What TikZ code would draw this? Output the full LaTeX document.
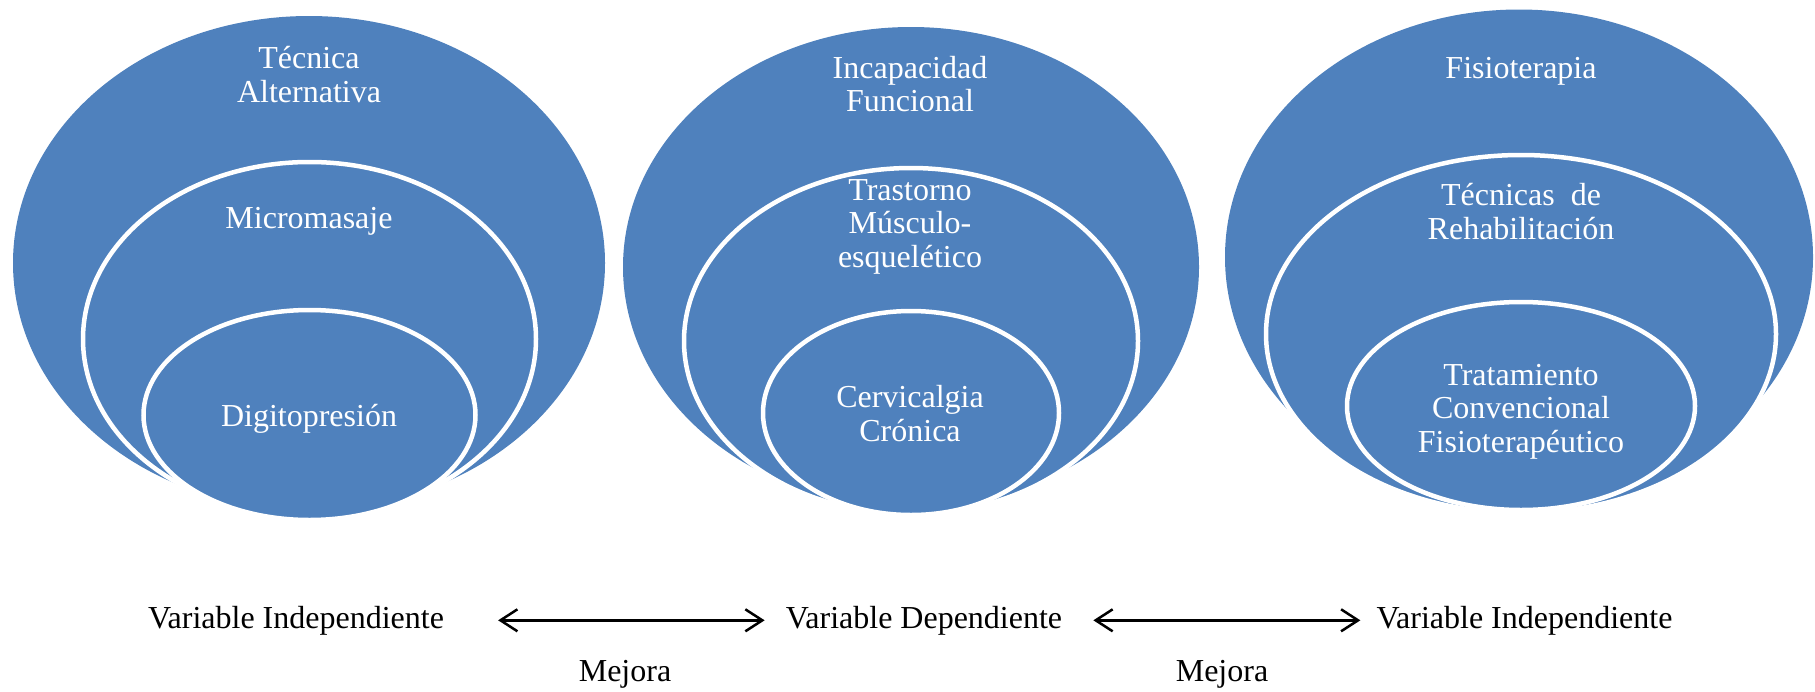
\documentclass[tikz,border=0pt]{standalone}
\usepackage{fontspec}
\setmainfont{Liberation Serif}
\usetikzlibrary{shapes.geometric,arrows.meta}
\definecolor{sablue}{HTML}{4F81BD}
\begin{document}
\begin{tikzpicture}[x=1pt,y=-1pt,
  blob/.style={ellipse, fill=sablue, inner sep=0pt, outer sep=0pt},
  ring/.style={blob, draw=white, line width=4.5pt},
  lab/.style={text=white, font=\fontsize{32}{33.5}\selectfont, align=center, inner sep=0pt, anchor=base},
  txt/.style={text=black, font=\fontsize{32}{33.5}\selectfont, inner sep=0pt, anchor=base},
  barb/.tip={Straight Barb[length=17pt,width=22pt]},
  arr/.style={barb-barb, line width=2.5pt}
]
\useasboundingbox (0,0) rectangle (1815,691);
% group 1
\node[blob, minimum width=592pt, minimum height=494pt] (o1) at (309,263) {};
\node[ring, minimum width=453pt, minimum height=354pt] (m1) at (309.5,339) {};
\node[ring, minimum width=332pt, minimum height=210pt] (i1) at (309.5,415) {};
% group 2
\node[blob, minimum width=576pt, minimum height=480pt] (o2) at (911,267) {};
\node[ring, minimum width=454pt, minimum height=346pt] (m2) at (911,341) {};
\node[ring, minimum width=296pt, minimum height=204pt] (i2) at (911,413) {};
% group 3
\node[blob, minimum width=588pt, minimum height=495pt] (o3) at (1519,257) {};
\node[ring, minimum width=510pt, minimum height=358pt] (m3) at (1521,334) {};
\node[ring, minimum width=348pt, minimum height=208pt] (i3) at (1521,406) {};
% labels (base = baseline of the last line)
\node[lab] (to1) at (309,102) {Técnica\\Alternativa};
\node[lab] (tm1) at (309,228) {Micromasaje};
\node[lab] (ti1) at (309,426) {Digitopresión};
\node[lab] (to2) at (910,111.5) {Incapacidad\\Funcional};
\node[lab] (tm2) at (910,267) {Trastorno\\Músculo-\\esquelético};
\node[lab] (ti2) at (910,441) {Cervicalgia\\Crónica};
\node[lab] (to3) at (1521,78) {Fisioterapia};
\node[lab] (tm3) at (1521,239) {Técnicas\ \ de\\Rehabilitación};
\node[lab] (ti3) at (1521,452) {Tratamiento\\Convencional\\Fisioterapéutico};
% bottom row
\node[txt] (vi1) at (296,628) {Variable Independiente};
\node[txt] (vd) at (924,628) {Variable Dependiente};
\node[txt] (vi2) at (1524.5,628) {Variable Independiente};
\node[txt] (mej1) at (625,681) {Mejora};
\node[txt] (mej2) at (1222,681) {Mejora};
\draw[arr, shorten <=54pt, shorten >=21pt] (vi1.east) -- (vd.west);
\draw[arr, shorten <=31pt, shorten >=16pt] (vd.east) -- (vi2.west);
\end{tikzpicture}
\end{document}
